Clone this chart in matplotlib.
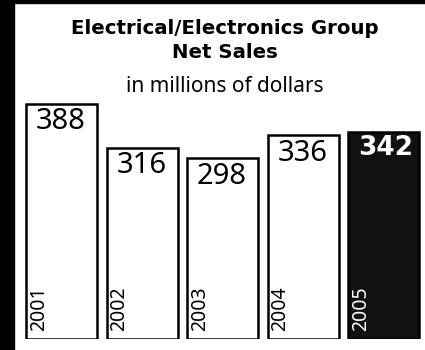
import matplotlib
matplotlib.use("Agg")
import matplotlib.pyplot as plt
from matplotlib.patches import Rectangle

years = ["2001", "2002", "2003", "2004", "2005"]
sales = [388, 316, 298, 336, 342]
title_lines = ["Electrical/Electronics Group", "Net Sales"]
subtitle = "in millions of dollars"

plt.rcParams['font.family'] = ['Noto Sans', 'DejaVu Sans']
BOLD = ['DejaVu Sans']

W, H = 425, 350
fig = plt.figure(figsize=(W / 100, H / 100), dpi=100)
fig.patch.set_facecolor("white")

ax = fig.add_axes([0, 11 / H, 1, 1 - 11 / H])
ax.set_xlim(-0.763, 4.510)
ax.set_ylim(0, 339 / 0.606)
ax.axis("off")

x = list(range(len(years)))
colors = ["white"] * 4 + ["#111111"]
bars = ax.bar(x, sales, width=0.88, color=colors, edgecolor="black", linewidth=1.8)

for i, (b, v, yr) in enumerate(zip(bars, sales, years)):
    last = i == len(years) - 1
    tc = "white" if last else "black"
    ax.annotate(str(v), (b.get_x(), b.get_height()), xytext=(7, -2.5),
                textcoords="offset points", ha="left", va="top",
                fontsize=21 if not last else 19, color=tc,
                fontweight="bold" if last else "normal",
                family=BOLD if last else None)
    ax.annotate(yr, (b.get_x(), 0), xytext=(2, 6), textcoords="offset points",
                ha="left", va="bottom", rotation=90, fontsize=14, color=tc)

fig.text(0.53, 1 - 28 / H, title_lines[0], ha="center", va="center",
         fontsize=14.2, fontweight="bold", family=BOLD)
fig.text(0.53, 1 - 52 / H, title_lines[1], ha="center", va="center",
         fontsize=14.2, fontweight="bold", family=BOLD)
fig.text(0.53, 1 - 86 / H, subtitle, ha="center", va="center", fontsize=15)

fig.add_artist(Rectangle((0, 0), 14 / W, 1, transform=fig.transFigure,
                         color="black", zorder=5))
fig.add_artist(Rectangle((0, 1 - 3 / H), 1, 3 / H, transform=fig.transFigure,
                         color="black", zorder=5))

fig.savefig("out.png", dpi=100)
